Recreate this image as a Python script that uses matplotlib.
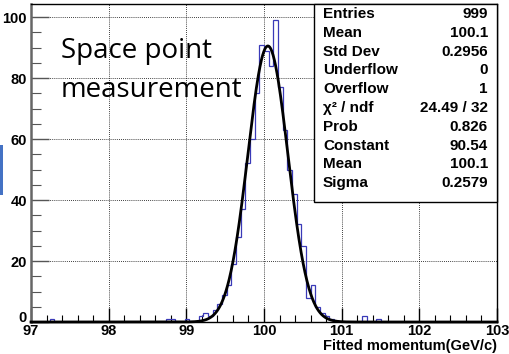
import numpy as np
import matplotlib
matplotlib.use("Agg")
import matplotlib.pyplot as plt
import matplotlib.transforms as mtransforms
from matplotlib.ticker import MultipleLocator
from matplotlib.patches import Rectangle

# histogram: 100 bins from 97 to 103, only non-empty bins listed
x_min, x_max, n_bins = 97.0, 103.0, 100
bin_idx = [4, 29, 30, 33, 36, 37, 38, 39, 40, 41, 42, 43, 44, 45, 46, 47, 48,
           49, 50, 51, 52, 53, 54, 55, 56, 57, 58, 59, 60, 61, 62, 63, 64, 71, 74]
counts = [1, 1, 1, 1, 2, 3, 2, 4, 6, 9, 12, 19, 28, 37, 52, 60, 75,
          91, 89, 84, 99, 77, 63, 50, 42, 32, 25, 8, 12, 5, 3, 2, 1, 2, 1]

# gaussian fit parameters
fit_const, fit_mean, fit_sigma = 90.54, 100.05, 0.2579

stat_names = ["Entries", "Mean", "Std Dev", "Underflow", "Overflow",
              "χ² / ndf", "Prob", "Constant", "Mean", "Sigma"]
stat_values = ["999", "100.1", "0.2956", "0", "1",
               "24.49 / 32", "0.826", "90.54", "100.1", "0.2579"]

x_ticks = [97, 98, 99, 100, 101, 102, 103]
y_ticks = [0, 20, 40, 60, 80, 100]

edges = np.linspace(x_min, x_max, n_bins + 1)
values = np.zeros(n_bins)
values[bin_idx] = counts

W, H = 510, 354
fig = plt.figure(figsize=(W / 100, H / 100), dpi=100)
ax = fig.add_axes([31 / W, (H - 322) / H, (497 - 31) / W, (322 - 4) / H])

ax.stairs(values, edges, color="#3a3ab8", linewidth=0.9, zorder=3)
xf = np.linspace(x_min, x_max, 1200)
yf = fit_const * np.exp(-0.5 * ((xf - fit_mean) / fit_sigma) ** 2)
ax.plot(xf, yf, color="black", linewidth=2.0, zorder=4, clip_on=False)

ax.set_xlim(x_min, x_max)
ax.set_ylim(0, 104.3)
ax.set_xticks(x_ticks)
ax.set_yticks(y_ticks)
ax.xaxis.set_minor_locator(MultipleLocator(0.2))
ax.yaxis.set_minor_locator(MultipleLocator(5))
ax.tick_params(which="both", direction="in", top=False, right=False)
ax.tick_params(axis="x", which="major", length=10, width=1.0, pad=1.5)
ax.tick_params(axis="x", which="minor", length=5, width=0.8)
ax.tick_params(axis="y", which="major", length=13, width=1.0, pad=3, color="#555555")
ax.tick_params(axis="y", which="minor", length=7, width=0.8, color="#555555")
for lab in ax.get_xticklabels() + ax.get_yticklabels():
    lab.set_fontfamily("Liberation Sans")
    lab.set_fontweight("bold")
    lab.set_fontsize(10.5)
# lift the "0" a little so it sits just above the "97"
zero_lab = ax.get_yticklabels()[0]
zero_lab.set_transform(zero_lab.get_transform() +
                       mtransforms.ScaledTranslation(0, 5 / 100, fig.dpi_scale_trans))
ax.grid(True, which="major", linestyle=(0, (1, 1.5)), color="black", linewidth=0.6)
ax.set_axisbelow(True)
ax.spines["left"].set_color("#666666")
ax.spines["left"].set_linewidth(1.8)
for s in ["top", "right", "bottom"]:
    ax.spines[s].set_linewidth(1.0)

fig.text(497 / W, 1 - 350 / H, "Fitted momentum(GeV/c)", fontfamily="Liberation Sans",
         fontweight="bold", fontsize=10.5, ha="right", va="baseline")

# stats box
bx0, bx1, by0, by1 = 314, 497, 4, 202
fig.patches.append(Rectangle((bx0 / W, 1 - by1 / H), (bx1 - bx0) / W, (by1 - by0) / H,
                             transform=fig.transFigure, facecolor="white",
                             edgecolor="black", linewidth=1.0, zorder=5))
for i, (nm, val) in enumerate(zip(stat_names, stat_values)):
    yy = 1 - (14 + i * 18.8) / H
    fig.text(323 / W, yy, nm, ha="left", va="center",
             fontfamily=["Liberation Sans", "DejaVu Sans"],
             fontweight="bold", fontsize=11, zorder=6)
    fig.text(488 / W, yy, val, ha="right", va="center", fontfamily="Liberation Sans",
             fontweight="bold", fontsize=11, zorder=6)

# overlay text from the slide
fig.text(61 / W, 1 - 58 / H, "Space point", fontfamily="Open Sans", fontsize=20,
         ha="left", va="baseline")
fig.text(61 / W, 1 - 97 / H, "measurement", fontfamily="Open Sans", fontsize=20,
         ha="left", va="baseline")
fig.patches.append(Rectangle((0, 1 - 195 / H), 3 / W, 50 / H, transform=fig.transFigure,
                             facecolor="#4472c4", edgecolor="none"))

fig.savefig("out.png", dpi=100)
